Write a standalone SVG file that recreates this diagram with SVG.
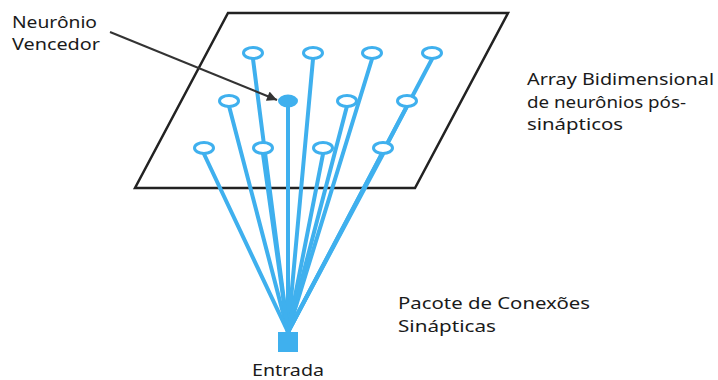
<svg xmlns="http://www.w3.org/2000/svg" width="718" height="380" viewBox="0 0 718 380">
<style>
.t{font-family:"Noto Sans","Liberation Sans",sans-serif;font-size:17px;fill:#1a1a1a}
.c{stroke:#3fb0ee;stroke-width:4;fill:none;stroke-linecap:round}
.n{stroke:#3fb0ee;stroke-width:3;fill:#fff}
</style>
<defs>
<marker id="ah" viewBox="0 0 10 10" refX="10" refY="5" markerWidth="6" markerHeight="5" orient="auto" markerUnits="strokeWidth">
<path d="M0,0 L10,5 L0,10 z" fill="#333"/>
</marker>
</defs>
<rect width="718" height="380" fill="#fff"/>
<g id="plane">
<polygon points="228,13 508,13 415,188 135,188" fill="none" stroke="#222" stroke-width="2.5" stroke-linejoin="miter"/>
</g>
<g id="connectors">
<line class="c" x1="288" y1="332" x2="253" y2="59"/>
<line class="c" x1="288" y1="332" x2="313" y2="59"/>
<line class="c" x1="288" y1="332" x2="372" y2="59"/>
<line class="c" x1="288" y1="332" x2="432" y2="59"/>
<line class="c" x1="288" y1="332" x2="229" y2="106"/>
<line class="c" x1="288" y1="332" x2="288" y2="106"/>
<line class="c" x1="288" y1="332" x2="347" y2="106"/>
<line class="c" x1="288" y1="332" x2="407" y2="106"/>
<line class="c" x1="288" y1="332" x2="204" y2="154"/>
<line class="c" x1="288" y1="332" x2="263" y2="154"/>
<line class="c" x1="288" y1="332" x2="323" y2="154"/>
<line class="c" x1="288" y1="332" x2="383" y2="154"/>
<line x1="110" y1="32" x2="277" y2="100" stroke="#333" stroke-width="2" marker-end="url(#ah)"/>
</g>
<g id="neurons">
<ellipse class="n" cx="253" cy="53" rx="9.5" ry="5.5"/>
<ellipse class="n" cx="313" cy="53" rx="9.5" ry="5.5"/>
<ellipse class="n" cx="372" cy="53" rx="9.5" ry="5.5"/>
<ellipse class="n" cx="432" cy="53" rx="9.5" ry="5.5"/>
<ellipse class="n" cx="229" cy="101" rx="9.5" ry="5.5"/>
<ellipse id="vencedor" cx="288" cy="101" rx="10" ry="6.5" fill="#3fb0ee"/>
<ellipse class="n" cx="347" cy="101" rx="9.5" ry="5.5"/>
<ellipse class="n" cx="407" cy="101" rx="9.5" ry="5.5"/>
<ellipse class="n" cx="204" cy="148" rx="9.5" ry="5.5"/>
<ellipse class="n" cx="263" cy="148" rx="9.5" ry="5.5"/>
<ellipse class="n" cx="323" cy="148" rx="9.5" ry="5.5"/>
<ellipse class="n" cx="383" cy="148" rx="9.5" ry="5.5"/>
</g>
<g id="entrada">
<rect x="278" y="332" width="20" height="20" fill="#3fb0ee"/>
<text class="t" x="288" y="376" text-anchor="middle" textLength="72" lengthAdjust="spacingAndGlyphs">Entrada</text>
</g>
<g id="label-vencedor">
<text class="t" x="12" y="28" textLength="85" lengthAdjust="spacingAndGlyphs">Neurônio</text>
<text class="t" x="12" y="50" textLength="88" lengthAdjust="spacingAndGlyphs">Vencedor</text>
</g>
<g id="label-array">
<text class="t" x="527" y="85" textLength="187" lengthAdjust="spacingAndGlyphs">Array Bidimensional</text>
<text class="t" x="527" y="108" textLength="159" lengthAdjust="spacingAndGlyphs">de neurônios pós-</text>
<text class="t" x="527" y="130" textLength="96" lengthAdjust="spacingAndGlyphs">sinápticos</text>
</g>
<g id="label-pacote">
<text class="t" x="398" y="309" textLength="192" lengthAdjust="spacingAndGlyphs">Pacote de Conexões</text>
<text class="t" x="398" y="332" textLength="98" lengthAdjust="spacingAndGlyphs">Sinápticas</text>
</g>
</svg>
